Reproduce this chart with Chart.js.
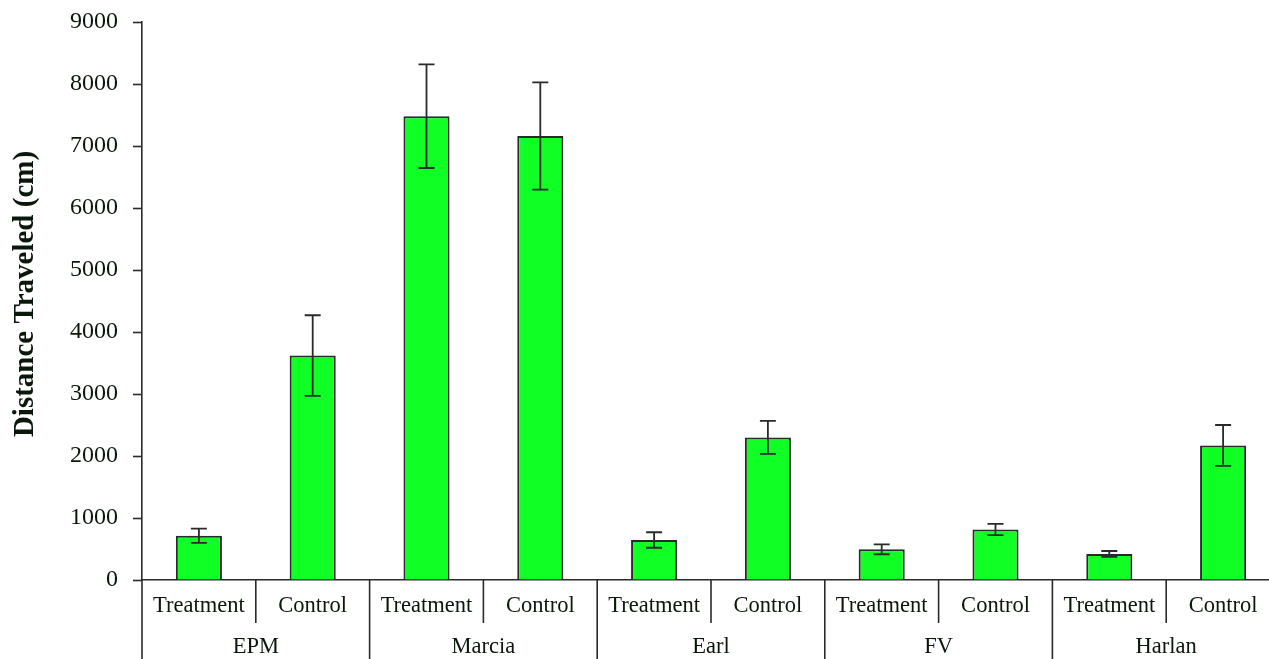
<!DOCTYPE html>
<html>
<head>
<meta charset="utf-8">
<script src="https://cdn.jsdelivr.net/npm/chart.js@4/dist/chart.umd.min.js"></script>
<style>
  html, body { margin: 0; padding: 0; background: #fff; overflow: hidden; }
  #wrap { width: 1280px; height: 659px; position: relative; }
</style>
</head>
<body>
<div id="wrap"><canvas id="c"></canvas></div>
<script>
// Groups and conditions on the two-level x axis
const groups = ['EPM', 'Marcia', 'Earl', 'FV', 'Harlan'];
const conditions = ['Treatment', 'Control'];
const categories = ['Treatment', 'Control', 'Treatment', 'Control', 'Treatment', 'Control', 'Treatment', 'Control', 'Treatment', 'Control'];

// Mean distance traveled (cm) and standard error for each bar
const distance = [715, 3620, 7480, 7160, 645, 2300, 495, 815, 420, 2170];
const errors = [115, 650, 835, 865, 125, 265, 80, 90, 48, 330];

// Y axis tick values and title
const yTicks = [0, 1000, 2000, 3000, 4000, 5000, 6000, 7000, 8000, 9000];
const yTitle = 'Distance Traveled (cm)';

const TEXT = '#0b170b';
const LINE = '#2a2a2a';
const SERIF = '"Liberation Serif", "Times New Roman", serif';

// Error bars with caps
const errorBars = {
  id: 'errorBars',
  afterDatasetsDraw(chart) {
    const { ctx } = chart;
    const y = chart.scales.y;
    const meta = chart.getDatasetMeta(0);
    ctx.save();
    ctx.strokeStyle = LINE;
    ctx.lineWidth = 1.8;
    meta.data.forEach((bar, i) => {
      const x = bar.x;
      const top = y.getPixelForValue(distance[i] + errors[i]);
      const bot = y.getPixelForValue(distance[i] - errors[i]);
      const cap = 8;
      ctx.beginPath();
      ctx.moveTo(x, top); ctx.lineTo(x, bot);
      ctx.moveTo(x - cap, top); ctx.lineTo(x + cap, top);
      ctx.moveTo(x - cap, bot); ctx.lineTo(x + cap, bot);
      ctx.stroke();
    });
    ctx.restore();
  }
};

// Two-level category axis: condition labels, group labels and separators; rotated y title
const groupedAxis = {
  id: 'groupedAxis',
  afterDraw(chart) {
    const { ctx, chartArea } = chart;
    const x = chart.scales.x;
    const base = chartArea.bottom;
    const slot = x.getPixelForValue(1) - x.getPixelForValue(0);
    ctx.save();
    ctx.strokeStyle = LINE;
    ctx.lineWidth = 1.6;
    ctx.fillStyle = TEXT;
    ctx.font = '22.5px ' + SERIF;
    ctx.textAlign = 'center';
    ctx.textBaseline = 'middle';
    categories.forEach((c, i) => {
      ctx.fillText(c, x.getPixelForValue(i), base + 26);
    });
    // short separators between conditions, full-height ones between groups
    groups.forEach((g, gi) => {
      const left = x.getPixelForValue(gi * 2) - slot / 2;
      const mid = left + slot;
      ctx.beginPath();
      ctx.moveTo(mid, base); ctx.lineTo(mid, base + 43);
      ctx.stroke();
      ctx.beginPath();
      ctx.moveTo(left, base); ctx.lineTo(left, chart.height);
      ctx.stroke();
      ctx.fillText(g, mid, base + 67);
    });
    // y axis title
    ctx.translate(26, 294);
    ctx.rotate(-Math.PI / 2);
    ctx.font = 'bold 29px ' + SERIF;
    ctx.fillText(yTitle, 0, 0);
    ctx.restore();
  }
};

new Chart(document.getElementById('c'), {
  type: 'bar',
  data: {
    labels: categories,
    datasets: [{
      data: distance,
      backgroundColor: '#10ff24',
      borderColor: LINE,
      borderWidth: 2,
      borderSkipped: 'bottom',
      categoryPercentage: 1,
      barPercentage: 0.405
    }]
  },
  options: {
    responsive: true,
    maintainAspectRatio: false,
    animation: false,
    events: [],
    layout: { padding: { top: 22, right: 0, bottom: 0, left: 0 } },
    plugins: { legend: { display: false }, tooltip: { enabled: false } },
    scales: {
      x: {
        grid: { display: true, drawOnChartArea: false, drawTicks: false },
        border: { display: true, color: LINE, width: 1.6 },
        ticks: { display: false },
        afterFit(scale) { scale.height = 79; }
      },
      y: {
        min: 0,
        max: 9000,
        afterBuildTicks(scale) { scale.ticks = yTicks.map(v => ({ value: v })); },
        grid: { display: true, drawOnChartArea: false, drawTicks: true, tickLength: 9, color: LINE, tickColor: LINE, tickWidth: 1.6 },
        border: { display: true, color: LINE, width: 1.6 },
        ticks: { color: TEXT, padding: 15, font: { family: SERIF, size: 24 }, callback: v => String(v) },
        title: { display: false },
        afterFit(scale) {
          scale.width = 142;
          scale.paddingTop = 0;
          scale.paddingBottom = 0;
        }
      }
    }
  },
  plugins: [errorBars, groupedAxis]
});
</script>
</body>
</html>
